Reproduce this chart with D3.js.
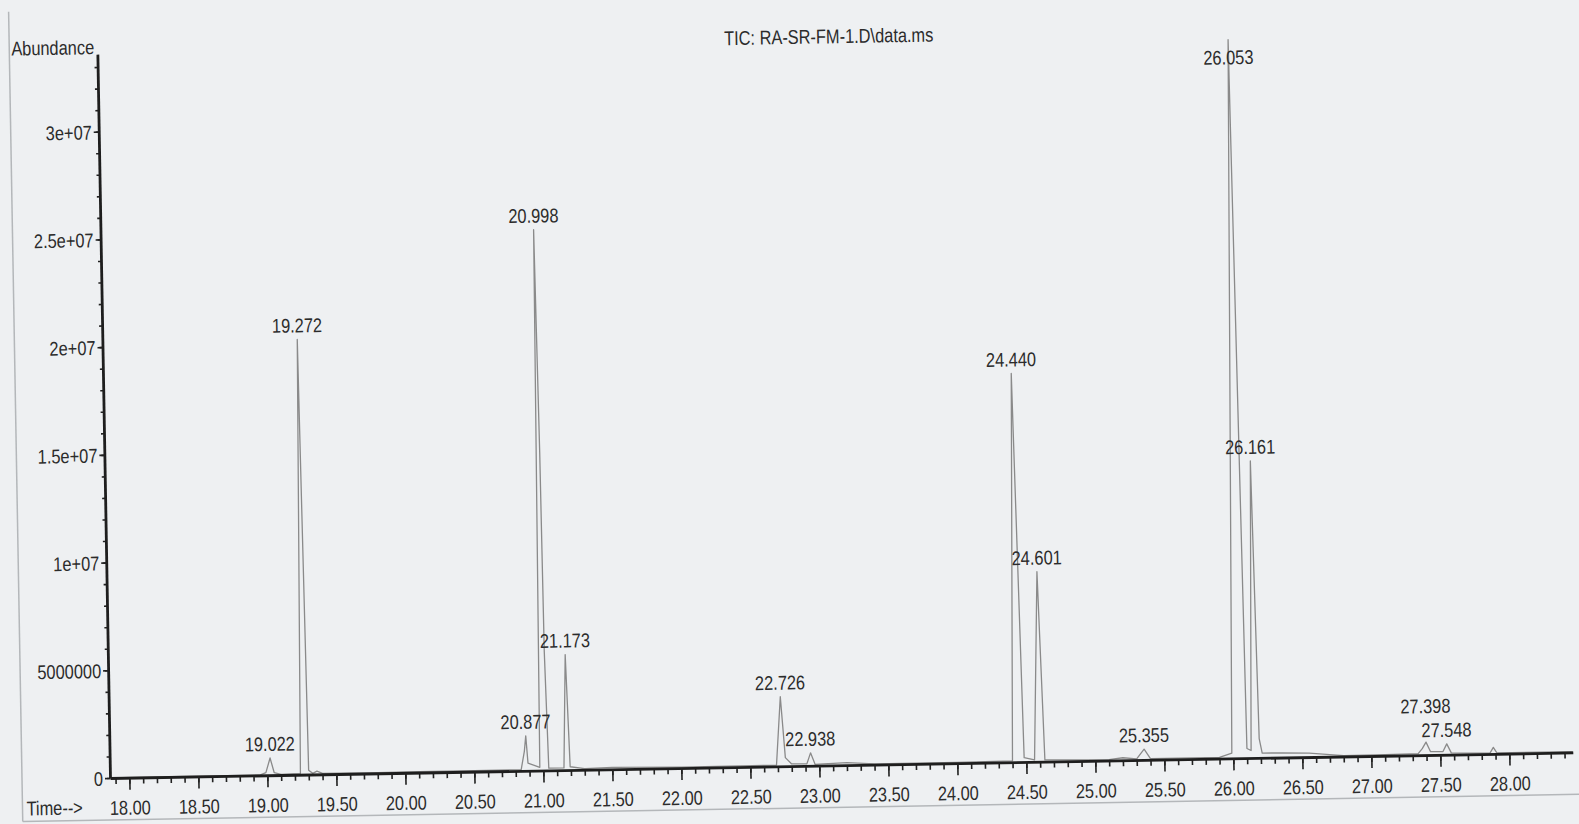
<!DOCTYPE html>
<html>
<head>
<meta charset="utf-8">
<script src="https://cdn.jsdelivr.net/npm/d3@7"></script>
<style>
  body { margin: 0; background: #eef0f2; }
  svg { display: block; }
</style>
</head>
<body>
<svg id="chart" width="1579" height="824"></svg>
<script>
// layout constants
const CHART = {
  WIDTH: 1579,
  HEIGHT: 824,
  ORIGIN_X: 110,
  ORIGIN_Y: 778,
  RIGHT: 1573,
  TOP: 54,
  TILT: -1,          // the printout is photographed slightly rotated
  FONT: 20,
  SQUEEZE: 0.82      // narrow printer font
};

// chromatogram trace
const traceTime = [
  17.86, 18.40, 18.95, 18.99, 19.022, 19.05, 19.10, 19.24, 19.272, 19.30,
  19.33, 19.36, 19.40, 19.80, 20.10, 20.50, 20.84, 20.865, 20.877, 20.89,
  20.975, 20.998, 21.014, 21.022, 21.04, 21.15, 21.173, 21.195, 21.30, 21.50,
  22.00, 22.69, 22.726, 22.755, 22.80, 22.91, 22.938, 22.97, 23.20, 23.40,
  24.00, 24.40, 24.440, 24.485, 24.56, 24.601, 24.635, 25.10, 25.20, 25.30,
  25.355, 25.40, 25.90, 25.99, 26.053, 26.10, 26.13, 26.161, 26.19, 26.21,
  26.35, 26.55, 26.80, 27.10, 27.34, 27.37, 27.398, 27.43, 27.52, 27.548,
  27.58, 27.86, 27.885, 27.91, 28.46
];
const traceAbund = [
  0, 10000, 20000, 120000, 800000, 120000, 30000, 50000, 20200000, 200000,
  50000, 150000, 40000, 30000, 40000, 50000, 60000, 900000, 1620000, 350000,
  150000, 25100000, 14800000, 5500000, 100000, 100000, 5360000, 150000, 50000, 90000,
  40000, 60000, 3230000, 400000, 100000, 90000, 600000, 60000, 120000, 40000,
  40000, 60000, 18040000, 200000, 90000, 8820000, 80000, 40000, 120000, 60000,
  500000, 60000, 60000, 250000, 33350000, 450000, 350000, 13790000, 900000, 220000,
  220000, 180000, 40000, 50000, 70000, 300000, 600000, 150000, 150000, 500000,
  80000, 40000, 300000, 40000, 40000
];

// labelled peaks
const peakTimes = [19.022, 19.272, 20.877, 20.998, 21.173, 22.726, 22.938,
                   24.440, 24.601, 25.355, 26.053, 26.161, 27.398, 27.548];
const peakLabels = ["19.022", "19.272", "20.877", "20.998", "21.173", "22.726", "22.938",
                    "24.440", "24.601", "25.355", "26.053", "26.161", "27.398", "27.548"];

// axes
const xTickValues = [18.0, 18.5, 19.0, 19.5, 20.0, 20.5, 21.0, 21.5, 22.0, 22.5, 23.0,
                     23.5, 24.0, 24.5, 25.0, 25.5, 26.0, 26.5, 27.0, 27.5, 28.0];
const xTickLabels = ["18.00", "18.50", "19.00", "19.50", "20.00", "20.50", "21.00",
                     "21.50", "22.00", "22.50", "23.00", "23.50", "24.00", "24.50",
                     "25.00", "25.50", "26.00", "26.50", "27.00", "27.50", "28.00"];
const yTickValues = [0, 5000000, 10000000, 15000000, 20000000, 25000000, 30000000];
const yTickLabels = ["0", "5000000", "1e+07", "1.5e+07", "2e+07", "2.5e+07", "3e+07"];

const TITLE = "TIC: RA-SR-FM-1.D\\data.ms";

const svg = d3.select("#chart");

svg.append("rect")
  .attr("width", CHART.WIDTH)
  .attr("height", CHART.HEIGHT)
  .attr("fill", "#eef0f2");

const g = svg.append("g")
  .attr("transform", `rotate(${CHART.TILT}, ${CHART.ORIGIN_X}, ${CHART.ORIGIN_Y})`);

// paper frame
g.append("line")
  .attr("x1", 22).attr("x2", 22).attr("y1", 10).attr("y2", 820)
  .attr("stroke", "#b4b7ba").attr("stroke-width", 1.5);
g.append("line")
  .attr("x1", 22).attr("x2", 1640).attr("y1", 820).attr("y2", 820)
  .attr("stroke", "#b4b7ba").attr("stroke-width", 1.5);

const xScale = d3.scaleLinear().domain([17.86, 28.46]).range([CHART.ORIGIN_X, CHART.RIGHT]);
const yScale = d3.scaleLinear().domain([0, 33600000]).range([CHART.ORIGIN_Y, CHART.TOP]);

function squeeze(x, y) {
  return `translate(${x},${y}) scale(${CHART.SQUEEZE},1)`;
}

// trace
const line = d3.line()
  .x(d => xScale(d.t))
  .y(d => yScale(d.v));

const traceData = traceTime.map((t, i) => ({ t: t, v: traceAbund[i] }));

g.append("path")
  .datum(traceData)
  .attr("d", line)
  .attr("fill", "none")
  .attr("stroke", "#8a8a8a")
  .attr("stroke-width", 1.3)
  .attr("stroke-linejoin", "round");

// x axis: minor then major ticks
const xMinor = g.append("g")
  .attr("transform", `translate(0,${CHART.ORIGIN_Y})`)
  .call(d3.axisBottom(xScale)
    .tickValues(d3.range(179, 285).map(d => d / 10))
    .tickSize(6).tickSizeOuter(0).tickFormat(""));
xMinor.select(".domain").remove();

const xMajor = g.append("g")
  .attr("transform", `translate(0,${CHART.ORIGIN_Y})`)
  .call(d3.axisBottom(xScale)
    .tickValues(xTickValues)
    .tickSize(12).tickSizeOuter(0)
    .tickFormat((d, i) => xTickLabels[i]));

// y axis: minor then major ticks
const yMinor = g.append("g")
  .attr("transform", `translate(${CHART.ORIGIN_X},0)`)
  .call(d3.axisLeft(yScale)
    .tickValues(d3.range(0, 34).map(d => d * 1000000))
    .tickSize(3).tickSizeOuter(0).tickFormat(""));
yMinor.select(".domain").remove();

const yMajor = g.append("g")
  .attr("transform", `translate(${CHART.ORIGIN_X},0)`)
  .call(d3.axisLeft(yScale)
    .tickValues(yTickValues)
    .tickSize(5).tickSizeOuter(0)
    .tickFormat((d, i) => yTickLabels[i]));

[xMinor, xMajor, yMinor, yMajor].forEach(ax => {
  ax.attr("font-family", "'Liberation Sans', Arial, sans-serif")
    .attr("font-size", CHART.FONT);
  ax.selectAll(".tick line").attr("stroke", "#222").attr("stroke-width", 1.6);
});
[xMajor, yMajor].forEach(ax => {
  ax.select(".domain").attr("stroke", "#1e1e1e").attr("stroke-width", 2.8);
});

xMajor.selectAll(".tick text")
  .attr("fill", "#2b2b2b")
  .attr("y", 0).attr("dy", 0)
  .attr("transform", squeeze(0, 37));

yMajor.selectAll(".tick text")
  .attr("fill", "#2b2b2b")
  .attr("x", 0).attr("dy", "0.36em")
  .attr("text-anchor", "end")
  .attr("transform", squeeze(-7, 0));

// peak labels; a label crowded by the next peak sits a line higher
const labelLayer = g.append("g")
  .attr("font-family", "'Liberation Sans', Arial, sans-serif")
  .attr("font-size", CHART.FONT)
  .attr("fill", "#2b2b2b")
  .attr("text-anchor", "middle");

peakTimes.forEach((t, i) => {
  const v = traceAbund[traceTime.indexOf(t)];
  let y = Math.max(yScale(v) - 7, CHART.TOP + 30);
  const next = peakTimes[i + 1];
  if (next !== undefined && next - t < 0.2 &&
      Math.abs(yScale(traceAbund[traceTime.indexOf(next)]) - yScale(v)) < 20) {
    y -= 22;
  }
  labelLayer.append("text")
    .attr("transform", squeeze(xScale(t), y))
    .text(peakLabels[i]);
});

// titles
const textLayer = g.append("g")
  .attr("font-family", "'Liberation Sans', Arial, sans-serif")
  .attr("font-size", CHART.FONT)
  .attr("fill", "#2b2b2b");

textLayer.append("text")
  .attr("transform", squeeze(24, 54))
  .text("Abundance");

textLayer.append("text")
  .attr("transform", squeeze((CHART.ORIGIN_X + CHART.RIGHT) / 2, 56))
  .attr("text-anchor", "middle")
  .text(TITLE);

textLayer.append("text")
  .attr("transform", squeeze(26, 814))
  .text("Time-->");
</script>
</body>
</html>
